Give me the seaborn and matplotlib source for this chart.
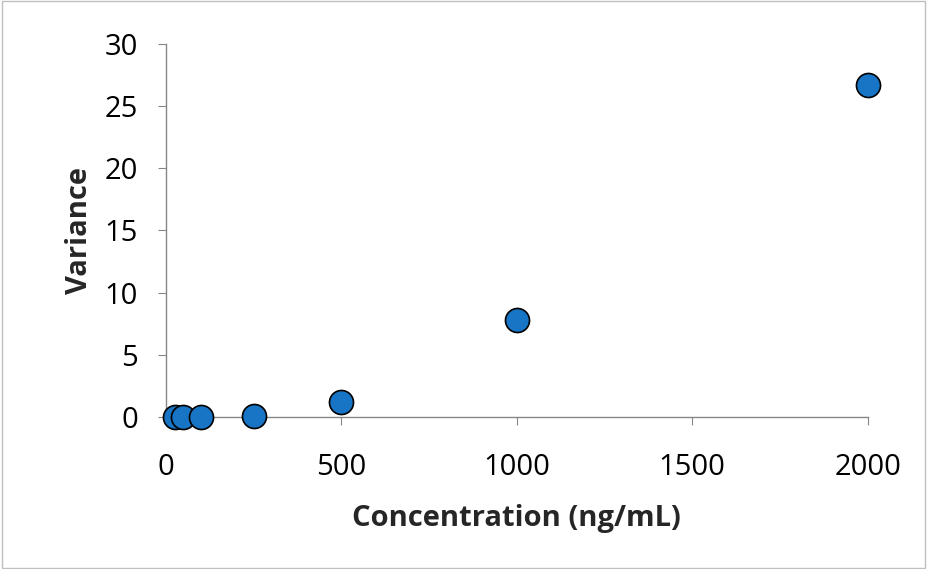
import matplotlib
matplotlib.use("Agg")
import matplotlib.pyplot as plt
import seaborn as sns
import pandas as pd

concentration = [25, 50, 100, 250, 500, 1000, 2000]
variance = [0.0, 0.0, 0.0, 0.05, 1.2, 7.8, 26.7]
x_ticks = [0, 500, 1000, 1500, 2000]
y_ticks = [0, 5, 10, 15, 20, 25, 30]

sns.set_style("white")
plt.rcParams['font.family'] = ['Open Sans', 'DejaVu Sans']

df = pd.DataFrame({"c": concentration, "v": variance})
fig = plt.figure(figsize=(9.27, 5.69), dpi=100)
fig.patches.append(plt.Rectangle((0.002, 0.002), 0.996, 0.996, transform=fig.transFigure,
                                 fill=False, edgecolor="#bfbfbf", linewidth=1))
ax = fig.add_axes([0.179, 0.267, 0.757, 0.656])
sns.scatterplot(data=df, x="c", y="v", ax=ax, s=300, color="#1874c4",
                edgecolor="black", linewidth=1.2, zorder=3, clip_on=False)
ax.set_xlim(0, 2000)
ax.set_ylim(0, 30)
ax.set_xticks(x_ticks)
ax.set_yticks(y_ticks)
for s in ["top", "right"]:
    ax.spines[s].set_visible(False)
for s in ["left", "bottom"]:
    ax.spines[s].set_color("#868686")
    ax.spines[s].set_linewidth(1)
ax.tick_params(axis="both", labelsize=21, colors="#868686", labelcolor="black",
               direction="out", length=6, left=True, bottom=True)
ax.tick_params(axis="x", pad=20)
ax.tick_params(axis="y", pad=14)
ax.set_xlabel("Concentration (ng/mL)", fontsize=21, fontweight="bold", labelpad=16)
ax.set_ylabel("Variance", fontsize=21, fontweight="bold", labelpad=8)
fig.savefig("out.png", dpi=100)
